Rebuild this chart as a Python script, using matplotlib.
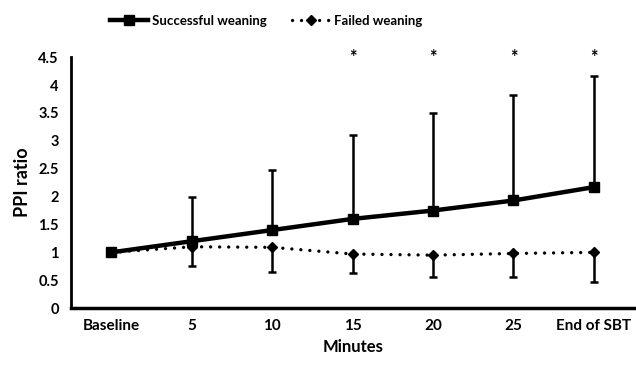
import numpy as np
import matplotlib.pyplot as plt

plt.rcParams['font.family'] = ['Lato', 'DejaVu Sans']
plt.rcParams['font.weight'] = 'bold'

categories = ['Baseline', '5', '10', '15', '20', '25', 'End of SBT']
success = [1.0, 1.2, 1.4, 1.6, 1.75, 1.93, 2.17]
success_up = [0.0, 0.8, 1.07, 1.5, 1.75, 1.9, 2.0]
failed = [1.0, 1.1, 1.09, 0.97, 0.95, 0.98, 1.0]
failed_down = [0.0, 0.35, 0.44, 0.34, 0.40, 0.43, 0.53]
star_cats = ['15', '20', '25', 'End of SBT']
star_y = 4.5

fig = plt.figure(figsize=(6.36, 3.69), dpi=100)
ax = fig.add_axes([0.112, 0.165, 0.885, 0.68])

x = np.arange(len(categories))
ax.errorbar(x, success, yerr=[np.zeros(len(x)), success_up], fmt='none',
            ecolor='k', elinewidth=1.8, capsize=3, capthick=1.8, zorder=2)
ax.errorbar(x, failed, yerr=[failed_down, np.zeros(len(x))], fmt='none',
            ecolor='k', elinewidth=1.8, capsize=3, capthick=1.8, zorder=2)
ax.plot(x, success, color='k', linewidth=3.2, marker='s', markersize=6.5,
        label='Successful weaning', zorder=4)
ax.plot(x, failed, color='k', linewidth=2.4, linestyle=(0, (0.01, 2.7)),
        dash_capstyle='round', marker='D', markersize=5,
        label='Failed weaning', zorder=3)

for c in star_cats:
    ax.text(categories.index(c), star_y, '*', ha='center', va='center',
            fontsize=13, fontweight='bold')

ax.set_xlim(-0.5, 6.5)
ax.set_ylim(0, 4.5)
ax.set_yticks(np.arange(0, 4.51, 0.5))
ax.set_yticklabels(['0', '0.5', '1', '1.5', '2', '2.5', '3', '3.5', '4', '4.5'])
ax.set_xticks(x)
ax.set_xticklabels(categories)
ax.tick_params(axis='x', length=0, labelsize=11, pad=8)
ax.tick_params(axis='y', length=0, labelsize=10.5, pad=9)
for lab in ax.get_xticklabels() + ax.get_yticklabels():
    lab.set_fontweight('bold')

ax.set_ylabel('PPI ratio', fontsize=13, fontweight='bold', labelpad=5)
ax.set_xlabel('Minutes', fontsize=12, fontweight='bold', labelpad=4)

for s in ['top', 'right']:
    ax.spines[s].set_visible(False)
ax.spines['left'].set_linewidth(2)
ax.spines['bottom'].set_linewidth(2.5)

fig.legend(loc='center', bbox_to_anchor=(0.419, 0.943), ncol=2, frameon=False,
           fontsize=9.5, handlelength=2.9, columnspacing=1.9, handletextpad=0.3)

fig.savefig('out.png', dpi=100)
